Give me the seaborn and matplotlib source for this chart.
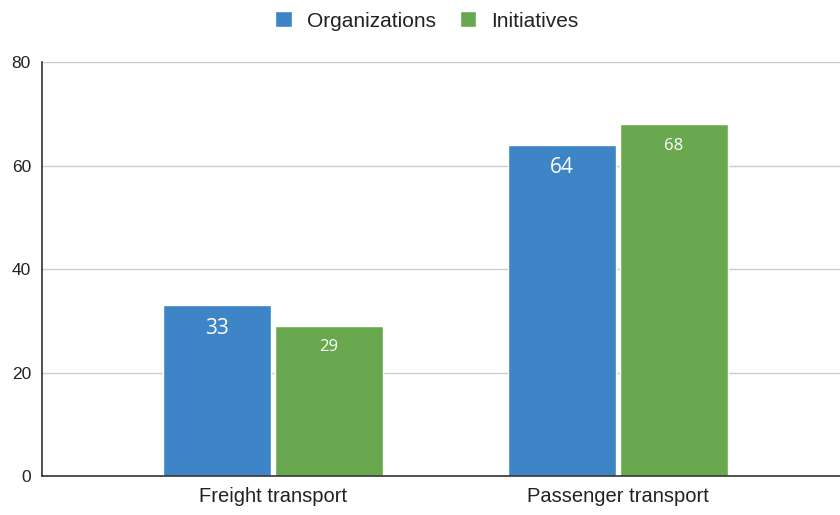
import matplotlib
matplotlib.use("Agg")
import matplotlib.pyplot as plt
import seaborn as sns
import pandas as pd

categories = ["Freight transport", "Passenger transport"]
series_names = ["Organizations", "Initiatives"]
organizations = [33, 64]
initiatives = [29, 68]
y_ticks = [0, 20, 40, 60, 80]
colors = ["#3d85c6", "#6aa84f"]

df = pd.DataFrame({
    "category": categories * 2,
    "series": [series_names[0]] * 2 + [series_names[1]] * 2,
    "value": organizations + initiatives,
})

sns.set_theme(style="white")
plt.rcParams["font.family"] = ["Liberation Sans", "DejaVu Sans"]

fig = plt.figure(figsize=(8.4, 5.15), dpi=100)
ax = fig.add_axes([0.05, 0.0757, 0.95, 0.8039])

sns.barplot(data=df, x="category", y="value", hue="series", palette=colors,
            width=0.65, gap=0.035, ax=ax, legend=True, saturation=1)

ax.set_ylim(0, 80)
ax.set_xlim(-0.6696, 1.6435)
ax.set_yticks(y_ticks)
ax.set_yticklabels([str(t) for t in y_ticks], fontsize=12.5, color="#222222")
ax.tick_params(axis="x", labelsize=14.5, colors="#222222", length=0, pad=8)
ax.tick_params(axis="y", length=0, pad=8)
ax.set_xlabel("")
ax.set_ylabel("")
ax.yaxis.grid(True, color="#cccccc", linewidth=1)
ax.set_axisbelow(True)
for s in ["top", "right"]:
    ax.spines[s].set_visible(False)
for s in ["left", "bottom"]:
    ax.spines[s].set_color("#333333")
    ax.spines[s].set_linewidth(1.2)

sizes = [15, 12]
offsets = [16.5, 15.5]
for i, cont in enumerate(ax.containers):
    for bar in cont:
        h = bar.get_height()
        x = bar.get_x() + bar.get_width() / 2
        ax.annotate(f"{int(round(h))}", (x, h), xytext=(0, -offsets[i]),
                    textcoords="offset points", ha="center", va="center",
                    color="white", fontsize=sizes[i], family="Open Sans")

leg = ax.legend(loc="center", bbox_to_anchor=(0.5083, 1 - 21 / 515), bbox_transform=fig.transFigure,
                ncol=2, frameon=False, fontsize=15, handlelength=0.8, handleheight=0.8,
                handletextpad=0.72, columnspacing=1.15)
for t in leg.get_texts():
    t.set_color("#222222")

fig.savefig("out.png", dpi=100)
